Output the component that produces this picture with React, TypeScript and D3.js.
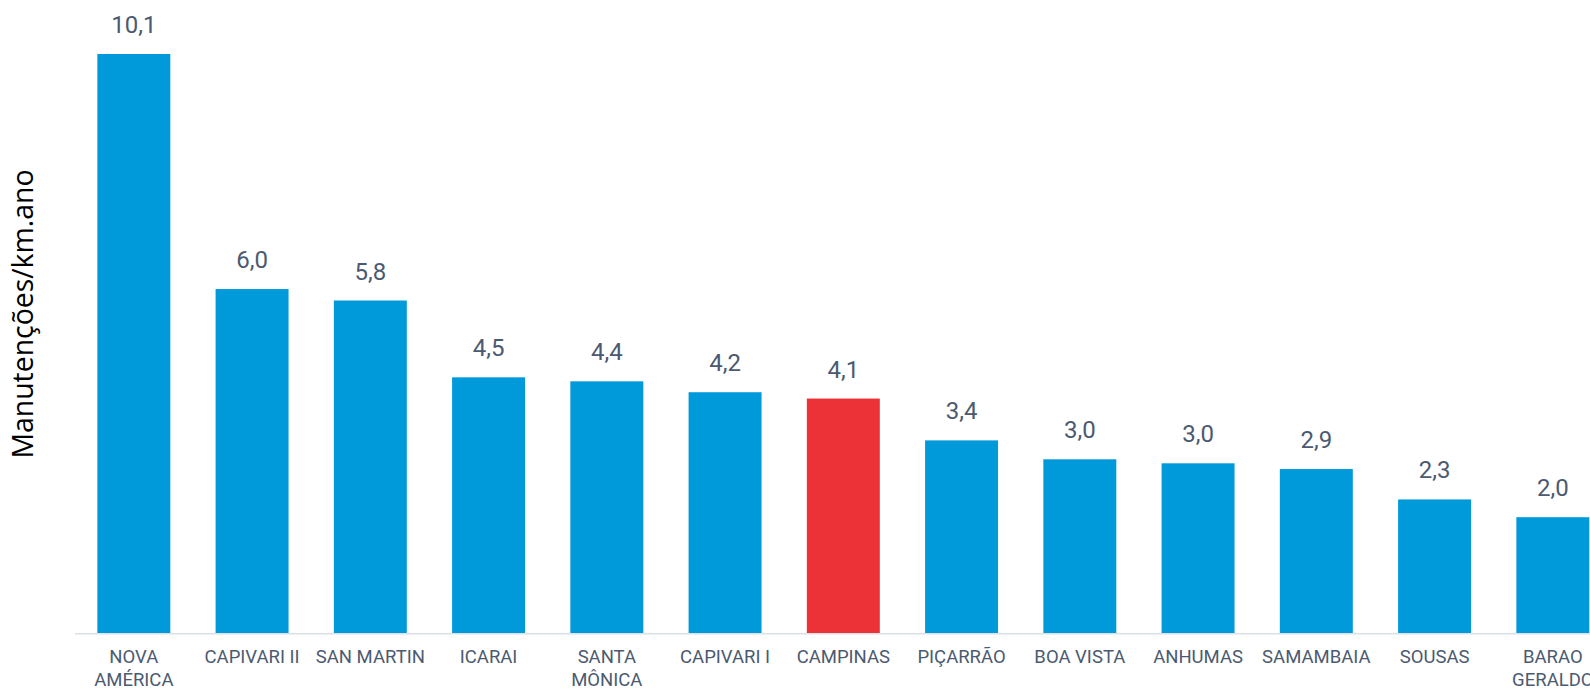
import React from "react";
import * as d3 from "d3";

const categories: string[][] = [
  ["NOVA", "AMÉRICA"],
  ["CAPIVARI II"],
  ["SAN MARTIN"],
  ["ICARAI"],
  ["SANTA", "MÔNICA"],
  ["CAPIVARI I"],
  ["CAMPINAS"],
  ["PIÇARRÃO"],
  ["BOA VISTA"],
  ["ANHUMAS"],
  ["SAMAMBAIA"],
  ["SOUSAS"],
  ["BARAO", "GERALDO"],
];
const values: number[] = [10.1, 6.0, 5.8, 4.46, 4.39, 4.2, 4.09, 3.36, 3.03, 2.96, 2.86, 2.33, 2.02];
const highlight = "CAMPINAS";
const yTitle = "Manutenções/km.ano";

const W = 1590;
const H = 688;

export default function App() {
  const keys = categories.map((c) => c.join(" "));
  const x = d3
    .scaleBand<string>()
    .domain(keys)
    .range([74.7, 74.7 + 13 * 118.25])
    .paddingInner(0.383)
    .paddingOuter(0.1915);
  const y = d3.scaleLinear().domain([0, 10.1]).range([633, 54]);
  const fmt = (v: number) => v.toFixed(1).replace(".", ",");
  const textColor = "#4b5a70";
  const font = "Roboto, 'DejaVu Sans', sans-serif";
  return (
    <svg
      width={W}
      height={H}
      style={{ position: "absolute", left: 0, top: 0, display: "block", background: "#fff" }}
    >
      <line x1={75} x2={W} y1={633.8} y2={633.8} stroke="#dce1e7" strokeWidth={1.6} />
      {keys.map((k, i) => {
        const v = values[i];
        const bx = x(k)!;
        const bw = x.bandwidth();
        const cx = bx + bw / 2;
        return (
          <g key={k}>
            <rect
              x={bx}
              y={y(v)}
              width={bw}
              height={y(0) - y(v)}
              fill={k === highlight ? "#ec3237" : "#0099da"}
            />
            <text
              x={cx}
              y={y(v) - 21}
              textAnchor="middle"
              fontFamily={font}
              fontSize={24}
              fill={textColor}
            >
              {fmt(v)}
            </text>
            <text
              x={cx}
              y={663}
              textAnchor="middle"
              fontFamily={font}
              fontSize={18.5}
              fill={textColor}
            >
              {categories[i].map((line, j) => (
                <tspan key={j} x={cx} dy={j === 0 ? 0 : 22.5}>
                  {line}
                </tspan>
              ))}
            </text>
          </g>
        );
      })}
      <text
        transform={`translate(33,314) rotate(-90)`}
        textAnchor="middle"
        fontFamily="'Open Sans', sans-serif"
        fontSize={28.4}
        fill="#000"
      >
        {yTitle}
      </text>
    </svg>
  );
}
